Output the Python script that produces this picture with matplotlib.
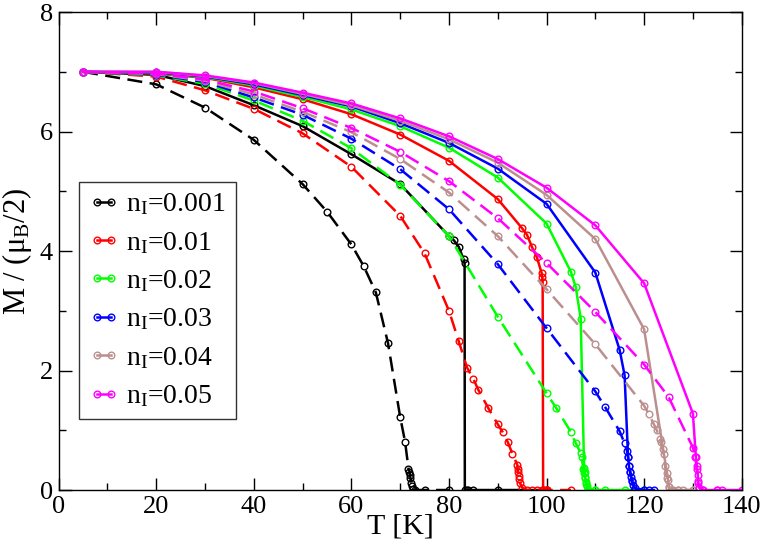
import matplotlib
matplotlib.use("Agg")
import matplotlib.pyplot as plt
from matplotlib.ticker import MultipleLocator

plt.rcParams['font.family'] = ['Liberation Serif', 'DejaVu Serif']
plt.rcParams['mathtext.fontset'] = 'custom'
plt.rcParams['mathtext.rm'] = 'Liberation Serif'
plt.rcParams['mathtext.it'] = 'Liberation Serif:italic'

CONCENTRATIONS = ['0.001', '0.01', '0.02', '0.03', '0.04', '0.05']
COLORS = ['black', '#ff0000', '#00ff00', '#0000ff', '#bc8f8f', '#ff00ff']

# solid curves (labelled in the legend)
t_001_s = [5, 20, 30, 40, 50, 60, 70, 80, 81, 82, 83, 83.2, 83.25, 83.6, 84, 85, 90, 100]
m_001_s = [7.0, 6.95, 6.76, 6.44, 6.09, 5.62, 5.12, 4.25, 4.18, 4.07, 3.86, 3.80, 0, 0, 0, 0, 0, 0]
t_01_s = [5, 20, 30, 40, 50, 60, 70, 80, 90, 95, 96, 97, 98, 99, 99.1, 99.2, 99.3, 99.6, 100]
m_01_s = [7.0, 6.97, 6.90, 6.74, 6.54, 6.29, 5.95, 5.51, 4.87, 4.38, 4.27, 4.07, 3.90, 3.63, 3.57, 3.49, 0, 0, 0]
t_02_s = [5, 20, 30, 40, 50, 60, 70, 80, 90, 100, 105, 106, 107, 107.7, 107.8, 107.9, 108.1, 108.3,
          108.5, 110, 112, 116, 120]
m_02_s = [7.0, 6.98, 6.91, 6.77, 6.58, 6.37, 6.09, 5.73, 5.23, 4.46, 3.65, 3.39, 2.87, 0.37, 0.30, 0.22,
          0.14, 0.07, 0, 0, 0, 0, 0]
t_03_s = [5, 20, 30, 40, 50, 60, 70, 80, 90, 100, 110, 115, 116, 116.7, 116.9, 117.1, 117.3, 117.5,
          117.8, 118.2, 120, 121, 122]
m_03_s = [7.0, 6.99, 6.92, 6.79, 6.61, 6.42, 6.14, 5.81, 5.38, 4.79, 3.64, 2.34, 1.92, 0.56, 0.40, 0.30,
          0.22, 0.15, 0.08, 0.03, 0, 0, 0]
t_04_s = [5, 20, 30, 40, 50, 60, 70, 80, 90, 100, 110, 120, 123.9, 124.7, 124.9, 125.1, 125.5, 126,
          127, 128, 130]
m_04_s = [7.0, 7.0, 6.93, 6.81, 6.63, 6.44, 6.18, 5.87, 5.48, 4.94, 4.20, 2.69, 0.68, 0.28, 0.17, 0.05,
          0, 0, 0, 0, 0]
t_05_s = [5, 20, 30, 40, 50, 60, 70, 80, 90, 100, 110, 120, 130, 130.6, 130.8, 131, 131.1, 131.3, 132,
          135, 136, 140]
m_05_s = [7.0, 7.0, 6.94, 6.82, 6.65, 6.47, 6.22, 5.92, 5.54, 5.06, 4.43, 3.46, 1.28, 0.56, 0.40, 0.25,
          0.12, 0.04, 0, 0, 0, 0]

# dashed curves
t_001_d = [5, 20, 30, 40, 50, 55, 60, 62.5, 65, 67.5, 70, 71, 71.7, 71.9, 72, 72.1, 72.3, 72.5, 72.7,
           73, 75, 80]
m_001_d = [7.0, 6.79, 6.40, 5.86, 5.12, 4.66, 4.11, 3.75, 3.31, 2.46, 1.22, 0.81, 0.36, 0.31, 0.25,
           0.20, 0.12, 0.06, 0.02, 0, 0, 0]
t_01_d = [5, 20, 30, 40, 50, 60, 70, 75, 80, 82, 83.7, 85, 86, 88, 90, 91, 92, 93, 94, 94.1, 94.2,
          94.3, 94.4, 94.6, 95, 96, 97, 98, 99, 100, 105]
m_01_d = [7.0, 6.92, 6.69, 6.38, 5.97, 5.41, 4.59, 3.96, 3.0, 2.49, 2.05, 1.86, 1.68, 1.38, 1.10, 0.97,
          0.81, 0.61, 0.42, 0.36, 0.30, 0.24, 0.18, 0.11, 0.04, 0, 0, 0, 0, 0, 0]
t_02_d = [5, 20, 30, 40, 50, 60, 70, 80, 90, 100, 102, 105, 106, 107, 107.2, 107.5, 107.6, 107.8,
          108.1, 108.5, 110]
m_02_d = [7.0, 6.94, 6.80, 6.52, 6.18, 5.72, 5.11, 4.25, 2.90, 1.62, 1.37, 0.97, 0.78, 0.62, 0.56,
          0.36, 0.28, 0.20, 0.10, 0, 0]
t_03_d = [5, 20, 30, 40, 50, 60, 70, 80, 90, 100, 110, 112, 115, 116, 116.5, 116.7, 117, 117.2, 117.5,
          118, 120]
m_03_d = [7.0, 6.95, 6.83, 6.57, 6.28, 5.88, 5.37, 4.70, 3.78, 2.71, 1.65, 1.39, 0.98, 0.78, 0.65,
          0.56, 0.40, 0.30, 0.15, 0, 0]
t_04_d = [5, 20, 30, 40, 50, 60, 70, 80, 90, 100, 110, 120, 121, 122, 122.6, 123.2, 123.4, 124, 124.3,
          124.6, 125, 125.5, 127, 130]
m_04_d = [7.0, 6.96, 6.85, 6.62, 6.33, 5.99, 5.54, 4.98, 4.25, 3.36, 2.44, 1.41, 1.27, 1.10, 1.0, 0.86,
          0.81, 0.60, 0.40, 0.20, 0.05, 0, 0, 0]
t_05_d = [5, 20, 30, 40, 50, 60, 70, 80, 90, 100, 110, 120, 125, 130, 130.5, 130.8, 131, 131.3, 132,
          135]
m_05_d = [7.0, 6.97, 6.87, 6.67, 6.39, 6.06, 5.66, 5.17, 4.55, 3.80, 2.98, 2.10, 1.56, 0.71, 0.55,
          0.35, 0.15, 0.04, 0, 0]

solid = [(t_001_s, m_001_s), (t_01_s, m_01_s), (t_02_s, m_02_s),
         (t_03_s, m_03_s), (t_04_s, m_04_s), (t_05_s, m_05_s)]
dashed = [(t_001_d, m_001_d), (t_01_d, m_01_d), (t_02_d, m_02_d),
          (t_03_d, m_03_d), (t_04_d, m_04_d), (t_05_d, m_05_d)]

fig = plt.figure(figsize=(7.64, 5.48), dpi=100)
ax = fig.add_axes([0.0768, 0.1058, 0.8940, 0.8722])

style = dict(lw=1.8, marker='o', ms=4.8, mfc='none', mew=1.0)
handles = []
for conc, color, (ts, ms), (td, md) in zip(CONCENTRATIONS, COLORS, solid, dashed):
    ax.plot(td, md, color=color, ls=(0, (6, 3)), **style)
    h, = ax.plot(ts, ms, color=color, ls='-', label=r'n$_\mathrm{I}$=' + conc, **style)
    handles.append(h)

ax.set_xlim(0, 140)
ax.set_ylim(0, 8)
ax.xaxis.set_major_locator(MultipleLocator(20))
ax.xaxis.set_minor_locator(MultipleLocator(10))
ax.yaxis.set_major_locator(MultipleLocator(2))
ax.yaxis.set_minor_locator(MultipleLocator(1))
ax.tick_params(which='both', direction='in', top=True, right=True, width=1.0,
               labelsize=19, pad=4)
ax.tick_params(which='major', length=9)
ax.tick_params(which='minor', length=5)
for sp in ax.spines.values():
    sp.set_linewidth(1.0)

ax.set_xlabel('T [K]', fontsize=21.5, labelpad=-3)
ax.set_ylabel(r'M / (μ$_\mathrm{B}$/2)', fontsize=22, labelpad=4)

leg = ax.legend(handles=handles, loc='lower left', bbox_to_anchor=(0.0297, 0.1485),
                fontsize=20, numpoints=2, handlelength=1.1, handletextpad=0.25,
                borderpad=0.35, labelspacing=0.45, fancybox=False, framealpha=1,
                edgecolor='#333333', borderaxespad=0)
leg.get_frame().set_linewidth(1.0)

fig.savefig('out.png', dpi=100)
